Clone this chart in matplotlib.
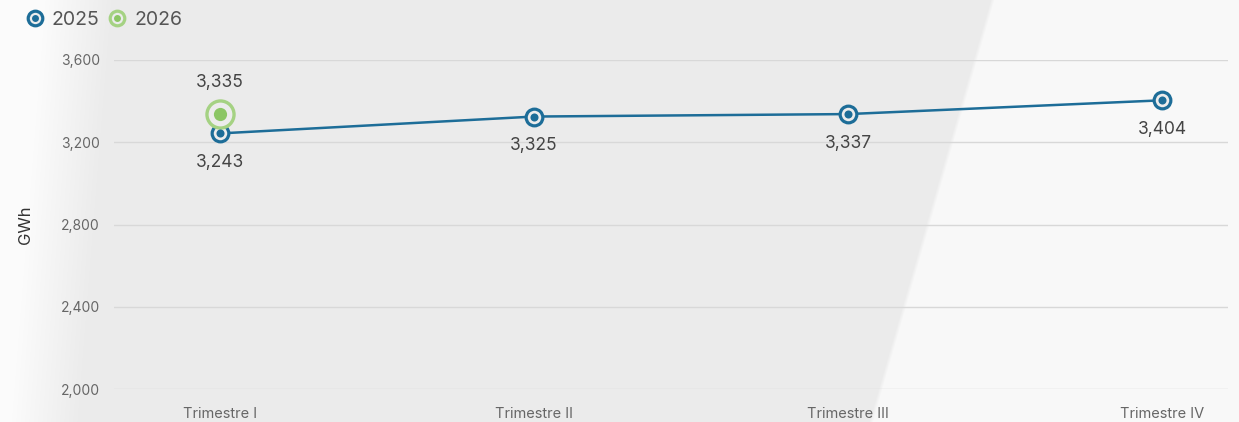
import numpy as np
import matplotlib
matplotlib.use("Agg")
import matplotlib.pyplot as plt
from matplotlib.lines import Line2D
from matplotlib.legend_handler import HandlerTuple

categories = ["Trimestre I", "Trimestre II", "Trimestre III", "Trimestre IV"]
values_2025 = [3243, 3325, 3337, 3404]
values_2026 = [3335]
yticks = [2000, 2400, 2800, 3200, 3600]

plt.rcParams['font.family'] = ['Inter', 'DejaVu Sans']

W, H = 1239, 422
fig = plt.figure(figsize=(W / 100, H / 100), dpi=100)

# background
bg = fig.add_axes([0, 0, 1, 1], zorder=-10)
yy, xx = np.mgrid[0:H, 0:W].astype(float)
gray = np.array([235, 235, 235]) / 255.0
light = np.array([248, 248, 248]) / 255.0
white = np.array([251, 251, 251]) / 255.0
img = np.ones((H, W, 3)) * gray
edge = 992 - 0.288 * yy
tr = np.clip((xx - edge) / 4.0 + 0.5, 0, 1)[..., None]
img = img * (1 - tr) + light * tr
tl = np.clip((xx - (45 - 0.08 * yy)) / 70.0, 0, 1)[..., None]
img = white * (1 - tl) + img * tl
bg.imshow(img, extent=[0, W, H, 0], aspect='auto', interpolation='bilinear')
bg.set_axis_off()

L, R, T, B = 114, 1228, 60, 389
ax = fig.add_axes([L / W, 1 - B / H, (R - L) / W, (B - T) / H])
ax.set_facecolor('none')
for s in ax.spines.values():
    s.set_visible(False)

x = np.arange(len(categories))
blue = '#1d6d98'
green_ring = '#a5d283'
green_dot = '#8cc665'

ax.plot(x, values_2025, color=blue, lw=1.8, zorder=3, clip_on=False)
ax.plot(x, values_2025, ls='none', marker='o', ms=12, mfc='#ececec', mec=blue, mew=2.3, zorder=4, clip_on=False)
ax.plot(x, values_2025, ls='none', marker='o', ms=5.8, mfc=blue, mec=blue, mew=0, zorder=5, clip_on=False)

x26 = x[:len(values_2026)]
ax.plot(x26, values_2026, ls='none', marker='o', ms=19.5, mfc='#ececec', mec=green_ring, mew=2.4, zorder=4, clip_on=False)
ax.plot(x26, values_2026, ls='none', marker='o', ms=9.5, mfc=green_dot, mec=green_dot, mew=0, zorder=5, clip_on=False)

for xi, v in zip(x, values_2025):
    ax.annotate(f"{v:,}", (xi, v), xytext=(0, -21), textcoords='offset points',
                ha='center', va='center', fontsize=12.5, color='#444444')
for xi, v in zip(x26, values_2026):
    ax.annotate(f"{v:,}", (xi, v), xytext=(0, 23), textcoords='offset points',
                ha='center', va='center', fontsize=12.5, color='#444444')

ax.set_ylim(2000, 3600)
ax.set_xlim(-0.338, 3.21)
ax.set_yticks(yticks)
ax.set_yticklabels([f"{t:,}" for t in yticks])
ax.set_xticks(x)
ax.set_xticklabels(categories)
ax.tick_params(axis='both', length=0, labelcolor='#666666')
ax.tick_params(axis='y', pad=10, labelsize=10)
ax.tick_params(axis='x', pad=13, labelsize=10.5)
ax.grid(axis='y', color='#d8d8d8', lw=1)
ax.set_axisbelow(True)
ax.set_ylabel('GWh', fontsize=12, color='#333333', labelpad=20)

h25 = (Line2D([], [], ls='none', marker='o', ms=10.5, mfc='#ececec', mec=blue, mew=2.3),
       Line2D([], [], ls='none', marker='o', ms=5, mfc=blue, mec=blue, mew=0))
h26 = (Line2D([], [], ls='none', marker='o', ms=10.5, mfc='#ececec', mec=green_ring, mew=2.3),
       Line2D([], [], ls='none', marker='o', ms=5, mfc=green_dot, mec=green_dot, mew=0))
fig.legend([h25, h26], ['2025', '2026'], handler_map={tuple: HandlerTuple(ndivide=1)},
           loc='center left', bbox_to_anchor=(25 / W, 1 - 20 / H), ncol=2, frameon=False,
           fontsize=14, labelcolor='#555555', handlelength=1.0, handletextpad=0.35,
           columnspacing=0.45, borderpad=0, borderaxespad=0)

fig.savefig('out.png', dpi=100)
